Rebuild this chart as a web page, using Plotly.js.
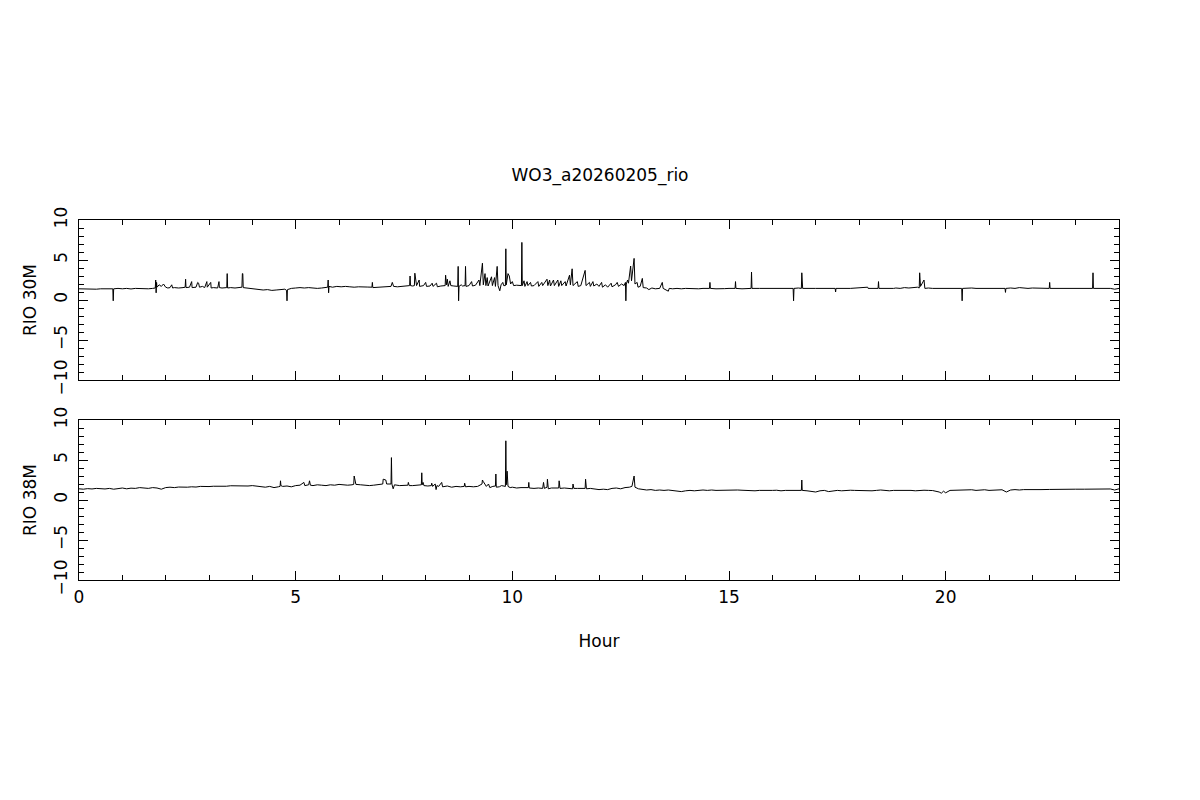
<!DOCTYPE html>
<html>
<head>
<meta charset="utf-8">
<script src="https://cdn.plot.ly/plotly-3.0.1.min.js"></script>
<style>html,body{margin:0;padding:0;background:#fff;}#chart{width:1200px;height:800px;}</style>
</head>
<body>
<div id="chart"></div>
<script>
const chartTitle = "WO3_a20260205_rio";
const panelLabels = ["RIO 30M", "RIO 38M"];
const xTickValues = [0, 5, 10, 15, 20];
const yTickValues = [-10, -5, 0, 5, 10];

const hours30 = [
0.00,0.10,0.20,0.30,0.40,0.50,0.60,0.70,0.78,0.79,0.80,0.90,1.00,1.10,1.20,1.30,1.40,1.50,1.60,1.70,
1.76,1.77,1.78,1.79,1.80,1.85,1.90,1.95,2.00,2.05,2.10,2.14,2.16,2.20,2.30,2.40,2.45,2.46,2.47,2.55,
2.60,2.61,2.70,2.74,2.76,2.78,2.85,2.90,2.95,2.96,3.04,3.05,3.10,3.20,3.23,3.24,3.30,3.41,3.42,3.43,
3.50,3.60,3.70,3.76,3.77,3.78,3.79,3.85,3.95,4.05,4.15,4.25,4.35,4.45,4.55,4.65,4.75,4.79,4.80,4.81,
4.90,5.00,5.10,5.20,5.30,5.40,5.50,5.60,5.70,5.74,5.75,5.76,5.77,5.85,5.95,6.05,6.15,6.25,6.35,6.45,
6.55,6.65,6.76,6.77,6.78,6.90,7.00,7.10,7.20,7.23,7.26,7.35,7.45,7.55,7.63,7.64,7.65,7.70,7.74,7.75,
7.77,7.79,7.85,7.86,7.95,8.00,8.02,8.10,8.15,8.17,8.25,8.27,8.35,8.45,8.46,8.48,8.50,8.52,8.56,8.58,
8.65,8.74,8.75,8.76,8.77,8.82,8.85,8.91,8.92,8.93,9.00,9.06,9.08,9.15,9.23,9.25,9.31,9.33,9.37,9.39,
9.42,9.44,9.52,9.54,9.59,9.61,9.65,9.67,9.71,9.74,9.78,9.80,9.84,9.85,9.86,9.90,9.93,9.96,10.00,10.03,
10.10,10.21,10.22,10.23,10.27,10.29,10.34,10.36,10.42,10.44,10.50,10.59,10.61,10.68,10.70,10.80,10.82,10.86,10.88,10.95,
10.97,11.05,11.07,11.12,11.14,11.22,11.24,11.32,11.34,11.38,11.40,11.50,11.52,11.58,11.68,11.70,11.78,11.80,11.86,11.88,
11.95,12.00,12.06,12.08,12.15,12.20,12.28,12.30,12.38,12.42,12.45,12.52,12.58,12.61,12.62,12.63,12.66,12.68,12.73,12.75,
12.81,12.83,12.88,12.90,12.95,13.00,13.02,13.10,13.15,13.22,13.30,13.40,13.46,13.48,13.60,13.62,13.70,13.80,13.90,14.00,
14.10,14.20,14.30,14.40,14.55,14.56,14.57,14.70,14.80,14.90,15.00,15.14,15.15,15.16,15.30,15.40,15.51,15.52,15.53,15.70,
16.00,16.30,16.48,16.49,16.50,16.60,16.67,16.68,16.69,16.70,17.00,17.45,17.46,17.47,17.80,18.20,18.21,18.44,18.45,18.46,
18.80,18.85,18.95,19.05,19.15,19.25,19.35,19.39,19.40,19.42,19.50,19.52,19.60,19.70,20.00,20.37,20.38,20.39,20.60,20.70,
21.00,21.37,21.38,21.39,21.50,21.60,21.70,21.80,21.90,22.00,22.20,22.39,22.40,22.41,22.80,23.39,23.40,23.41,23.80,23.90,
24.00
];
const rio30 = [
1.40,1.38,1.42,1.40,1.35,1.40,1.38,1.42,1.40,-0.10,1.40,1.45,1.40,1.45,1.38,1.45,1.42,1.48,1.40,1.45,
1.50,2.50,0.90,2.20,1.60,1.90,1.70,2.00,1.60,1.50,1.55,1.90,1.50,1.55,1.50,1.55,1.60,2.60,1.55,1.60,
2.30,1.55,1.60,2.20,2.10,1.60,1.70,1.55,2.30,1.60,2.20,1.50,1.55,1.50,2.30,1.55,1.50,1.55,3.30,1.50,
1.55,1.50,1.55,1.60,3.30,3.30,1.55,1.50,1.45,1.40,1.30,1.25,1.30,1.20,1.25,1.30,1.35,1.20,-0.10,1.30,
1.45,1.50,1.55,1.50,1.55,1.50,1.45,1.50,1.55,1.60,2.50,0.90,1.70,1.60,1.70,1.65,1.70,1.65,1.60,1.65,
1.60,1.62,1.60,2.20,1.55,1.60,1.55,1.65,1.70,2.20,1.70,1.65,1.70,1.75,1.80,3.00,1.80,1.75,1.80,3.35,
2.60,1.80,2.50,1.70,1.80,2.20,1.70,1.75,2.10,1.70,2.10,1.65,1.75,1.80,3.10,1.90,2.60,1.70,2.40,1.80,
1.75,1.70,4.20,-0.10,1.70,1.90,1.75,1.80,4.20,1.70,1.80,2.30,1.75,1.85,2.50,1.80,4.60,1.90,3.30,1.80,
2.80,1.75,2.90,1.80,2.80,1.70,4.20,1.80,1.15,1.90,2.20,1.80,1.80,6.40,1.90,3.30,3.00,2.00,2.30,1.80,
1.85,1.80,7.20,1.80,2.40,1.70,2.30,1.80,2.20,1.75,1.80,2.30,1.70,2.20,1.80,2.60,1.80,2.50,1.75,2.50,
1.80,2.50,1.70,2.40,1.80,2.30,1.75,3.10,1.90,3.90,1.80,2.30,1.70,1.80,3.70,1.80,2.20,1.70,2.30,1.75,
2.00,1.70,2.20,1.60,1.90,1.60,2.10,1.65,1.90,2.20,1.70,2.00,1.80,2.20,-0.10,2.00,2.50,2.10,4.25,2.40,
5.20,2.00,2.20,1.60,1.70,2.70,1.55,1.50,1.30,1.50,1.40,1.45,2.20,1.45,1.10,1.45,1.40,1.45,1.40,1.45,
1.42,1.45,1.40,1.45,1.45,2.20,1.45,1.40,1.45,1.42,1.45,1.45,2.30,1.45,1.40,1.45,1.45,3.50,1.45,1.45,
1.45,1.45,1.45,-0.10,1.45,1.50,1.45,3.40,2.00,1.45,1.45,1.45,1.00,1.45,1.45,1.60,1.45,1.45,2.30,1.45,
1.45,1.50,1.45,1.55,1.50,1.55,1.60,1.50,3.40,1.70,2.50,1.45,1.50,1.45,1.45,1.45,-0.10,1.45,1.50,1.45,
1.45,1.45,0.95,1.45,1.50,1.45,1.55,1.50,1.45,1.50,1.45,1.45,2.20,1.45,1.45,1.45,3.40,1.45,1.45,1.35,
1.45
];

const hours38 = [
0.00,0.10,0.20,0.30,0.40,0.50,0.60,0.70,0.80,0.90,1.00,1.10,1.20,1.30,1.40,1.50,1.60,1.70,1.80,1.90,
2.00,2.10,2.20,2.30,2.40,2.50,2.60,2.70,2.80,2.90,3.00,3.10,3.20,3.30,3.40,3.50,3.60,3.70,3.80,3.90,
4.00,4.10,4.20,4.30,4.40,4.50,4.60,4.64,4.65,4.66,4.70,4.80,4.90,5.00,5.10,5.19,5.21,5.30,5.32,5.34,
5.40,5.50,5.60,5.70,5.80,5.90,6.00,6.10,6.20,6.30,6.34,6.35,6.37,6.39,6.50,6.60,6.70,6.80,6.90,7.01,
7.02,7.05,7.08,7.10,7.20,7.21,7.22,7.25,7.28,7.40,7.50,7.59,7.60,7.62,7.70,7.80,7.90,7.91,7.92,7.94,
7.96,8.05,8.13,8.14,8.16,8.22,8.24,8.26,8.30,8.37,8.39,8.50,8.60,8.70,8.80,8.89,8.90,8.92,9.00,9.10,
9.20,9.30,9.31,9.33,9.36,9.40,9.45,9.48,9.55,9.61,9.62,9.63,9.70,9.75,9.84,9.85,9.86,9.88,9.90,9.95,
10.00,10.10,10.20,10.30,10.37,10.38,10.39,10.50,10.60,10.70,10.72,10.74,10.80,10.81,10.83,10.90,11.00,11.07,11.08,11.10,
11.20,11.30,11.39,11.40,11.42,11.50,11.60,11.68,11.69,11.71,11.80,11.90,12.00,12.10,12.20,12.30,12.40,12.50,12.60,12.70,
12.76,12.81,12.83,12.91,13.00,13.10,13.20,13.30,13.40,13.50,13.60,13.70,13.80,13.90,14.00,14.10,14.20,14.30,14.40,14.50,
14.60,14.70,14.80,14.90,15.00,15.10,15.20,15.30,15.40,15.50,15.60,15.70,15.80,15.90,16.00,16.10,16.20,16.30,16.40,16.50,
16.60,16.67,16.68,16.69,16.80,16.90,17.00,17.10,17.20,17.30,17.40,17.50,17.60,17.70,17.80,17.90,18.00,18.10,18.20,18.30,
18.40,18.50,18.60,18.70,18.80,18.90,19.00,19.10,19.20,19.30,19.40,19.50,19.60,19.70,19.85,19.90,19.95,20.00,20.10,20.20,
20.30,20.40,20.50,20.60,20.70,20.80,20.90,21.00,21.10,21.20,21.30,21.40,21.50,21.60,21.70,21.80,21.90,22.00,22.20,22.40,
22.60,22.80,23.00,23.20,23.40,23.60,23.80,23.90,24.00
];
const rio38 = [
1.40,1.35,1.42,1.38,1.45,1.40,1.38,1.45,1.35,1.42,1.50,1.40,1.48,1.45,1.55,1.50,1.45,1.55,1.50,1.35,
1.55,1.60,1.55,1.62,1.58,1.60,1.65,1.62,1.70,1.65,1.68,1.72,1.70,1.75,1.72,1.78,1.75,1.72,1.78,1.75,
1.80,1.75,1.72,1.60,1.70,1.55,1.65,1.70,2.40,1.80,1.70,1.75,1.65,1.80,1.85,2.20,1.80,1.90,2.40,1.85,
1.80,1.90,1.85,1.80,1.90,1.85,1.95,1.90,1.85,1.90,1.95,3.00,2.40,1.95,1.90,1.85,1.80,1.85,1.90,2.00,
2.60,2.50,2.50,2.00,2.00,5.30,2.00,1.40,1.90,1.80,1.85,1.85,2.20,1.80,1.80,1.85,1.90,3.40,1.90,2.20,
1.80,1.75,1.80,2.10,1.70,2.00,1.30,1.80,1.70,2.20,1.65,1.75,1.60,1.70,1.65,1.70,2.10,1.65,1.70,1.65,
1.70,2.00,2.50,2.30,2.00,1.70,2.00,1.55,1.70,1.75,3.25,1.60,1.65,1.80,1.70,7.40,1.90,3.60,1.70,1.55,
1.60,1.50,1.55,1.50,1.55,2.20,1.50,1.45,1.50,1.45,2.20,1.45,1.60,2.60,1.40,1.50,1.45,1.50,2.40,1.45,
1.50,1.45,1.40,2.00,1.45,1.45,1.40,1.45,2.60,1.40,1.45,1.35,1.30,1.35,1.30,1.45,1.50,1.40,1.55,1.60,
1.70,3.00,1.60,1.40,1.30,1.25,1.30,1.20,1.25,1.20,1.25,1.20,1.10,1.05,1.15,1.20,1.15,1.20,1.25,1.20,
1.25,1.20,1.22,1.18,1.22,1.20,1.25,1.22,1.18,1.20,1.15,1.20,1.18,1.22,1.20,1.22,1.15,1.20,1.18,1.22,
1.20,1.20,2.50,1.20,1.15,1.10,1.00,1.15,1.20,1.05,1.15,1.20,1.15,1.20,1.22,1.20,1.18,1.22,1.20,1.15,
1.20,1.25,1.20,1.15,1.20,1.22,1.20,1.25,1.20,1.15,1.20,1.22,1.20,1.18,1.00,0.85,1.10,0.90,1.20,1.22,
1.20,1.25,1.20,1.28,1.20,1.25,1.28,1.20,1.25,1.22,1.28,1.00,1.25,1.30,1.25,1.30,1.28,1.30,1.30,1.32,
1.30,1.32,1.35,1.35,1.38,1.35,1.38,1.25,1.40
];

const FONT = {family: "DejaVu Sans", size: 17, color: "#000"};

function xAxis(showLabels, anchor) {
  return {
    domain: [79/1200, 1119/1200],
    range: [0, 24],
    anchor: anchor,
    showgrid: false, zeroline: false,
    showline: true, linecolor: "#000", linewidth: 1, mirror: "allticks",
    ticks: "inside", ticklen: 9, tickwidth: 1, tickcolor: "#000",
    tickmode: "array", tickvals: xTickValues,
    ticktext: xTickValues.map(String),
    showticklabels: showLabels,
    tickfont: FONT,
    ticklabelstandoff: 2,
    minor: {dtick: 1, tick0: 0, ticks: "inside", ticklen: 5, tickwidth: 1, tickcolor: "#000", showgrid: false},
    fixedrange: true
  };
}
function yAxis(domain, label, anchor) {
  return {
    domain: domain,
    range: [-10, 10],
    anchor: anchor,
    showgrid: false, zeroline: false,
    showline: true, linecolor: "#000", linewidth: 1, mirror: "allticks",
    ticks: "inside", ticklen: 9, tickwidth: 1, tickcolor: "#000",
    tickmode: "array", tickvals: yTickValues,
    ticktext: yTickValues.map(v => v < 0 ? "\u2212" + Math.abs(v) : String(v)),
    tickangle: -90,
    tickfont: FONT,
    ticklabelstandoff: 4,
    minor: {dtick: 1, tick0: 0, ticks: "inside", ticklen: 5, tickwidth: 1, tickcolor: "#000", showgrid: false},
    title: {text: label, font: FONT, standoff: 10},
    fixedrange: true
  };
}

const traces = [
  {x: hours30, y: rio30, type: "scatter", mode: "lines", line: {color: "#000", width: 1}, xaxis: "x", yaxis: "y", hoverinfo: "skip"},
  {x: hours38, y: rio38, type: "scatter", mode: "lines", line: {color: "#000", width: 1}, xaxis: "x2", yaxis: "y2", hoverinfo: "skip"}
];

const layout = {
  width: 1200, height: 800,
  margin: {l: 0, r: 0, t: 0, b: 0},
  paper_bgcolor: "#fff", plot_bgcolor: "#fff",
  showlegend: false,
  font: FONT,
  title: {text: chartTitle, font: FONT, x: 0.5, xanchor: "center", y: 1 - 175/800, yanchor: "middle", xref: "paper", yref: "paper"},
  xaxis: xAxis(false, "y"),
  yaxis: yAxis([(800-380)/800, (800-220)/800], panelLabels[0], "x"),
  xaxis2: Object.assign(xAxis(true, "y2"), {title: {text: "Hour", font: FONT, standoff: 28}}),
  yaxis2: yAxis([(800-580)/800, (800-420)/800], panelLabels[1], "x2")
};

Plotly.newPlot("chart", traces, layout, {staticPlot: true, displayModeBar: false});
</script>
</body>
</html>
